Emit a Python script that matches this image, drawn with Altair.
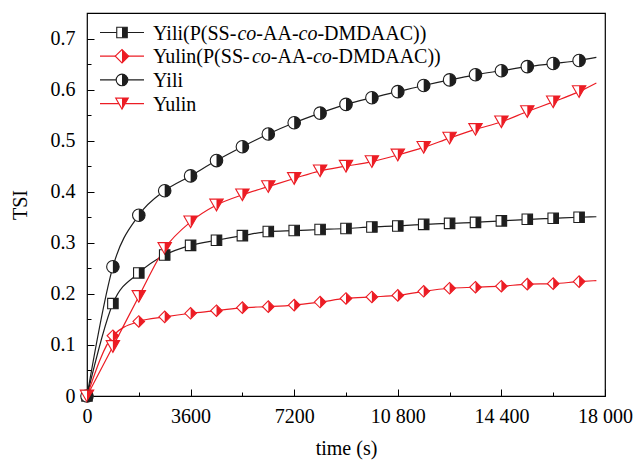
import altair as alt
import pandas as pd

# ---------------- data ----------------
series_names = [
    "Yili(P(SS-co-AA-co-DMDAAC))",
    "Yulin(P(SS-co-AA-co-DMDAAC))",
    "Yili",
    "Yulin",
]
time_s = [0, 900, 1800, 2700, 3600, 4500, 5400, 6300, 7200, 8100, 9000,
          9900, 10800, 11700, 12600, 13500, 14400, 15300, 16200, 17100]
yili_copolymer = [0, 0.181, 0.241, 0.276, 0.295, 0.305, 0.314, 0.322, 0.324, 0.326,
                  0.328, 0.331, 0.333, 0.336, 0.338, 0.340, 0.343, 0.346, 0.348, 0.350]
yulin_copolymer = [0, 0.118, 0.146, 0.155, 0.162, 0.167, 0.173, 0.175, 0.178, 0.184,
                   0.191, 0.194, 0.197, 0.205, 0.211, 0.213, 0.215, 0.219, 0.220, 0.224]
yili = [0, 0.253, 0.354, 0.402, 0.431, 0.461, 0.488, 0.513, 0.535, 0.554,
        0.571, 0.584, 0.596, 0.608, 0.619, 0.629, 0.637, 0.645, 0.651, 0.657]
yulin = [0, 0.097, 0.195, 0.289, 0.341, 0.374, 0.394, 0.410, 0.426, 0.441,
         0.450, 0.459, 0.472, 0.487, 0.505, 0.522, 0.537, 0.557, 0.576, 0.596]
# line continues past the last marker
end_time = 17700
end_values = [0.351, 0.226, 0.663, 0.613]

x_tick_values = [0, 3600, 7200, 10800, 14400, 18000]
x_tick_labels = ["0", "3600", "7200", "10 800", "14 400", "18 000"]
x_minor_values = [1800, 5400, 9000, 12600, 16200]
y_tick_values = [0, 0.1, 0.2, 0.3, 0.4, 0.5, 0.6, 0.7]
y_tick_labels = ["0", "0.1", "0.2", "0.3", "0.4", "0.5", "0.6", "0.7"]
y_minor_values = [0.05, 0.15, 0.25, 0.35, 0.45, 0.55, 0.65, 0.75]

# ---------------- styling ----------------
BLACK = "#1e1e1e"
RED = "#ec1c24"
colors = [BLACK, RED, BLACK, RED]
FONT = "Liberation Serif, DejaVu Serif, serif"
FS = 20
W, H = 518, 383

full_shapes = [
    "M-1,-1L1,-1L1,1L-1,1Z",
    "M-1,0L0,-1L1,0L0,1Z",
    "M0,-1A1,1 0 0 1 0,1A1,1 0 0 1 0,-1Z",
    "M-1,-0.87L1,-0.87L0,0.87Z",
]
half_shapes = [
    "M0,-1L1,-1L1,1L0,1Z",
    "M0,-1L1,0L0,1Z",
    "M0,-1A1,1 0 0 1 0,1Z",
    "M0,-0.87L1,-0.87L0,0.87Z",
]
sizes = [110, 180, 135, 160]

all_series = [yili_copolymer, yulin_copolymer, yili, yulin]
rows, line_rows = [], []
for name, vals, ev in zip(series_names, all_series, end_values):
    for t, v in zip(time_s, vals):
        rows.append({"t": t, "tsi": v, "series": name})
        line_rows.append({"t": t, "tsi": v, "series": name})
    line_rows.append({"t": end_time, "tsi": ev, "series": name})
pts = pd.DataFrame(rows)
lines_df = pd.DataFrame(line_rows)

xs = alt.Scale(domain=[0, 18000], nice=False, zero=False)
ys = alt.Scale(domain=[0, 0.75], nice=False, zero=False)


def cond_expr(values, labels):
    expr = "''"
    for v, l in reversed(list(zip(values, labels))):
        expr = f"abs(datum.value - {v}) < 1e-6 ? '{l}' : ({expr})"
    return expr


main_x_axis = alt.Axis(values=x_tick_values, labelExpr=cond_expr(x_tick_values, x_tick_labels),
                       ticks=False, tickSize=0, domain=False, grid=False, labelPadding=10,
                       labelFont=FONT, labelFontSize=FS, labelColor="black",
                       title="time (s)", titleFont=FONT, titleFontSize=FS,
                       titleFontWeight="normal", titleColor="black", titlePadding=12,
                       labelFlush=False)
main_y_axis = alt.Axis(values=y_tick_values, labelExpr=cond_expr(y_tick_values, y_tick_labels),
                       ticks=False, tickSize=0, domain=False, grid=False, labelPadding=12,
                       labelFont=FONT, labelFontSize=FS, labelColor="black",
                       title="TSI", titleFont=FONT, titleFontSize=FS,
                       titleFontWeight="normal", titleColor="black", titlePadding=20,
                       labelFlush=False)

color_scale = alt.Scale(domain=series_names, range=colors)

line_layer = alt.Chart(lines_df).mark_line(interpolate="monotone", strokeWidth=1.2).encode(
    x=alt.X("t:Q", scale=xs, axis=main_x_axis),
    y=alt.Y("tsi:Q", scale=ys, axis=main_y_axis),
    stroke=alt.Stroke("series:N", scale=color_scale, legend=None),
    detail="series:N",
)

full_layer = alt.Chart(pts).mark_point(filled=True, fill="white", strokeWidth=1.1, opacity=1).encode(
    x=alt.X("t:Q", scale=xs, axis=None),
    y=alt.Y("tsi:Q", scale=ys, axis=None),
    stroke=alt.Stroke("series:N", scale=color_scale, legend=None),
    shape=alt.Shape("series:N", scale=alt.Scale(domain=series_names, range=full_shapes), legend=None),
    size=alt.Size("series:N", scale=alt.Scale(domain=series_names, range=sizes), legend=None),
)

half_layer = alt.Chart(pts).mark_point(filled=True, strokeWidth=0, opacity=1).encode(
    x=alt.X("t:Q", scale=xs, axis=None),
    y=alt.Y("tsi:Q", scale=ys, axis=None),
    fill=alt.Fill("series:N", scale=color_scale, legend=None),
    shape=alt.Shape("series:N", scale=alt.Scale(domain=series_names, range=half_shapes), legend=None),
    size=alt.Size("series:N", scale=alt.Scale(domain=series_names, range=sizes), legend=None),
)


def tick_layer(xvals, yvals, size):
    return alt.Chart(pts).mark_point(opacity=0).encode(
        x=alt.X("t:Q", scale=xs, axis=alt.Axis(orient="top", offset=-H, values=xvals, labels=False,
                                                 domain=False, grid=False, ticks=True, tickSize=size,
                                                 tickColor="black", tickWidth=1, title=None)),
        y=alt.Y("tsi:Q", scale=ys, axis=alt.Axis(orient="right", offset=-W, values=yvals, labels=False,
                                                   domain=False, grid=False, ticks=True, tickSize=size,
                                                   tickColor="black", tickWidth=1, title=None)),
    )


major_ticks = tick_layer(x_tick_values, y_tick_values, 7)
minor_ticks = tick_layer(x_minor_values, y_minor_values, 4)

# ---------------- legend ----------------
char_w = {  # Times-compatible advance widths (per 1000 em)
    "Y": 722, "i": 278, "l": 278, "u": 500, "n": 500, "(": 333, ")": 333, "P": 556,
    "S": 556, "-": 333, "c": 444, "o": 500, "A": 722, "D": 722, "M": 889, "C": 667,
}
legend_parts = [
    [("Yili(P(SS-", False), ("co", True), ("-AA-", False), ("co", True), ("-DMDAAC))", False)],
    [("Yulin(P(SS-", False), ("co", True), ("-AA-", False), ("co", True), ("-DMDAAC))", False)],
    [("Yili", False)],
    [("Yulin", False)],
]
one = pd.DataFrame({"k": [0]})
legend_layers = []
for i, parts in enumerate(legend_parts):
    ly = 19.5 + i * 23.7
    legend_layers.append(alt.Chart(one).mark_rule(color=colors[i], strokeWidth=1.2).encode(
        x=alt.value(13), x2=alt.value(57), y=alt.value(ly)))
    legend_layers.append(alt.Chart(one).mark_point(
        shape=full_shapes[i], size=sizes[i], filled=True, fill="white", stroke=colors[i],
        strokeWidth=1.1, opacity=1).encode(x=alt.value(35), y=alt.value(ly)))
    legend_layers.append(alt.Chart(one).mark_point(
        shape=half_shapes[i], size=sizes[i], filled=True, fill=colors[i], strokeWidth=0,
        opacity=1).encode(x=alt.value(35), y=alt.value(ly)))
    xpos = 66
    for txt, ital in parts:
        legend_layers.append(alt.Chart(pd.DataFrame({"lab": [txt]})).mark_text(
            font=FONT, fontSize=FS, fontStyle="italic" if ital else "normal", color="black",
            align="left", baseline="middle").encode(
            x=alt.value(xpos), y=alt.value(ly + 1), text="lab:N"))
        xpos += sum(char_w.get(ch, 500) for ch in txt) * FS / 1000.0

chart = alt.layer(
    major_ticks, minor_ticks, line_layer, full_layer, half_layer, *legend_layers
).resolve_scale(
    shape="independent"
).resolve_axis(
    x="independent", y="independent"
).properties(
    width=W, height=H,
    autosize=alt.AutoSizeParams(type="none"),
    padding={"left": 87, "top": 13, "right": 34, "bottom": 66},
    background="white",
).configure_view(
    stroke="black", strokeWidth=1.2
)

chart.save("out.html", embed_options={"renderer": "svg", "actions": False})
